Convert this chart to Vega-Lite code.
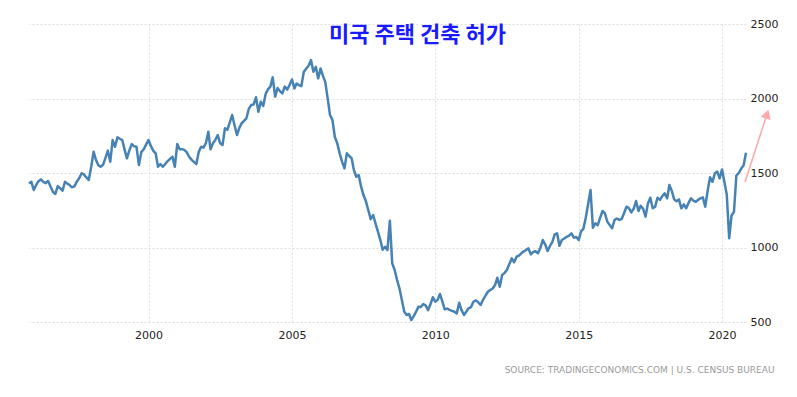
{
  "$schema": "https://vega.github.io/schema/vega-lite/v6.json",
  "width": 717,
  "height": 298,
  "autosize": "none",
  "padding": {"left": 29, "top": 24, "right": 51, "bottom": 75},
  "background": "white",
  "title": {
    "text": "미국 주택 건축 허가",
    "font": "Noto Sans CJK KR",
    "fontSize": 22,
    "fontWeight": "bold",
    "color": "#1a1aff",
    "anchor": "middle",
    "baseline": "middle",
    "dx": 30,
    "dy": 29,
    "offset": -10
  },
  "config": {
    "view": {"stroke": null},
    "axis": {
      "labelFont": "DejaVu Sans",
      "labelFontSize": 11,
      "labelColor": "#222222",
      "domain": false,
      "ticks": false,
      "gridColor": "#dedede",
      "gridDash": [2, 2],
      "gridWidth": 1
    }
  },
  "datasets": {
    "permits": [
      {"date": "1995-11", "value": 1430}, {"date": "1995-12", "value": 1441},
      {"date": "1996-01", "value": 1386}, {"date": "1996-02", "value": 1420}, {"date": "1996-03", "value": 1445}, {"date": "1996-04", "value": 1457}, {"date": "1996-05", "value": 1441}, {"date": "1996-06", "value": 1432}, {"date": "1996-07", "value": 1446}, {"date": "1996-08", "value": 1410}, {"date": "1996-09", "value": 1374}, {"date": "1996-10", "value": 1359}, {"date": "1996-11", "value": 1412}, {"date": "1996-12", "value": 1398},
      {"date": "1997-01", "value": 1381}, {"date": "1997-02", "value": 1441}, {"date": "1997-03", "value": 1430}, {"date": "1997-04", "value": 1419}, {"date": "1997-05", "value": 1404}, {"date": "1997-06", "value": 1410}, {"date": "1997-07", "value": 1441}, {"date": "1997-08", "value": 1465}, {"date": "1997-09", "value": 1498}, {"date": "1997-10", "value": 1490}, {"date": "1997-11", "value": 1470}, {"date": "1997-12", "value": 1453},
      {"date": "1998-01", "value": 1540}, {"date": "1998-02", "value": 1643}, {"date": "1998-03", "value": 1590}, {"date": "1998-04", "value": 1553}, {"date": "1998-05", "value": 1542}, {"date": "1998-06", "value": 1555}, {"date": "1998-07", "value": 1600}, {"date": "1998-08", "value": 1650}, {"date": "1998-09", "value": 1576}, {"date": "1998-10", "value": 1721}, {"date": "1998-11", "value": 1676}, {"date": "1998-12", "value": 1739},
      {"date": "1999-01", "value": 1730}, {"date": "1999-02", "value": 1721}, {"date": "1999-03", "value": 1660}, {"date": "1999-04", "value": 1598}, {"date": "1999-05", "value": 1650}, {"date": "1999-06", "value": 1694}, {"date": "1999-07", "value": 1680}, {"date": "1999-08", "value": 1676}, {"date": "1999-09", "value": 1553}, {"date": "1999-10", "value": 1640}, {"date": "1999-11", "value": 1659}, {"date": "1999-12", "value": 1690},
      {"date": "2000-01", "value": 1721}, {"date": "2000-02", "value": 1680}, {"date": "2000-03", "value": 1650}, {"date": "2000-04", "value": 1632}, {"date": "2000-05", "value": 1542}, {"date": "2000-06", "value": 1560}, {"date": "2000-07", "value": 1542}, {"date": "2000-08", "value": 1560}, {"date": "2000-09", "value": 1580}, {"date": "2000-10", "value": 1595}, {"date": "2000-11", "value": 1609}, {"date": "2000-12", "value": 1542},
      {"date": "2001-01", "value": 1694}, {"date": "2001-02", "value": 1659}, {"date": "2001-03", "value": 1660}, {"date": "2001-04", "value": 1655}, {"date": "2001-05", "value": 1640}, {"date": "2001-06", "value": 1609}, {"date": "2001-07", "value": 1590}, {"date": "2001-08", "value": 1575}, {"date": "2001-09", "value": 1560}, {"date": "2001-10", "value": 1640}, {"date": "2001-11", "value": 1676}, {"date": "2001-12", "value": 1670},
      {"date": "2002-01", "value": 1700}, {"date": "2002-02", "value": 1777}, {"date": "2002-03", "value": 1659}, {"date": "2002-04", "value": 1700}, {"date": "2002-05", "value": 1721}, {"date": "2002-06", "value": 1755}, {"date": "2002-07", "value": 1700}, {"date": "2002-08", "value": 1688}, {"date": "2002-09", "value": 1800}, {"date": "2002-10", "value": 1790}, {"date": "2002-11", "value": 1840}, {"date": "2002-12", "value": 1889},
      {"date": "2003-01", "value": 1820}, {"date": "2003-02", "value": 1755}, {"date": "2003-03", "value": 1800}, {"date": "2003-04", "value": 1833}, {"date": "2003-05", "value": 1850}, {"date": "2003-06", "value": 1867}, {"date": "2003-07", "value": 1930}, {"date": "2003-08", "value": 1956}, {"date": "2003-09", "value": 1960}, {"date": "2003-10", "value": 2008}, {"date": "2003-11", "value": 1911}, {"date": "2003-12", "value": 1978},
      {"date": "2004-01", "value": 1950}, {"date": "2004-02", "value": 2030}, {"date": "2004-03", "value": 2061}, {"date": "2004-04", "value": 2080}, {"date": "2004-05", "value": 2142}, {"date": "2004-06", "value": 2012}, {"date": "2004-07", "value": 2070}, {"date": "2004-08", "value": 2050}, {"date": "2004-09", "value": 2034}, {"date": "2004-10", "value": 2080}, {"date": "2004-11", "value": 2060}, {"date": "2004-12", "value": 2090},
      {"date": "2005-01", "value": 2128}, {"date": "2005-02", "value": 2068}, {"date": "2005-03", "value": 2100}, {"date": "2005-04", "value": 2090}, {"date": "2005-05", "value": 2083}, {"date": "2005-06", "value": 2180}, {"date": "2005-07", "value": 2200}, {"date": "2005-08", "value": 2220}, {"date": "2005-09", "value": 2258}, {"date": "2005-10", "value": 2180}, {"date": "2005-11", "value": 2213}, {"date": "2005-12", "value": 2135},
      {"date": "2006-01", "value": 2202}, {"date": "2006-02", "value": 2150}, {"date": "2006-03", "value": 2112}, {"date": "2006-04", "value": 2001}, {"date": "2006-05", "value": 1889}, {"date": "2006-06", "value": 1855}, {"date": "2006-07", "value": 1743}, {"date": "2006-08", "value": 1699}, {"date": "2006-09", "value": 1632}, {"date": "2006-10", "value": 1576}, {"date": "2006-11", "value": 1531}, {"date": "2006-12", "value": 1632},
      {"date": "2007-01", "value": 1614}, {"date": "2007-02", "value": 1598}, {"date": "2007-03", "value": 1520}, {"date": "2007-04", "value": 1475}, {"date": "2007-05", "value": 1486}, {"date": "2007-06", "value": 1408}, {"date": "2007-07", "value": 1352}, {"date": "2007-08", "value": 1310}, {"date": "2007-09", "value": 1250}, {"date": "2007-10", "value": 1190}, {"date": "2007-11", "value": 1218}, {"date": "2007-12", "value": 1162},
      {"date": "2008-01", "value": 1106}, {"date": "2008-02", "value": 1050}, {"date": "2008-03", "value": 985}, {"date": "2008-04", "value": 1005}, {"date": "2008-05", "value": 983}, {"date": "2008-06", "value": 1180}, {"date": "2008-07", "value": 894}, {"date": "2008-08", "value": 849}, {"date": "2008-09", "value": 782}, {"date": "2008-10", "value": 726}, {"date": "2008-11", "value": 648}, {"date": "2008-12", "value": 569},
      {"date": "2009-01", "value": 547}, {"date": "2009-02", "value": 554}, {"date": "2009-03", "value": 513}, {"date": "2009-04", "value": 540}, {"date": "2009-05", "value": 569}, {"date": "2009-06", "value": 603}, {"date": "2009-07", "value": 600}, {"date": "2009-08", "value": 621}, {"date": "2009-09", "value": 610}, {"date": "2009-10", "value": 580}, {"date": "2009-11", "value": 621}, {"date": "2009-12", "value": 666},
      {"date": "2010-01", "value": 636}, {"date": "2010-02", "value": 650}, {"date": "2010-03", "value": 688}, {"date": "2010-04", "value": 636}, {"date": "2010-05", "value": 585}, {"date": "2010-06", "value": 590}, {"date": "2010-07", "value": 582}, {"date": "2010-08", "value": 575}, {"date": "2010-09", "value": 569}, {"date": "2010-10", "value": 558}, {"date": "2010-11", "value": 629}, {"date": "2010-12", "value": 580},
      {"date": "2011-01", "value": 547}, {"date": "2011-02", "value": 570}, {"date": "2011-03", "value": 592}, {"date": "2011-04", "value": 600}, {"date": "2011-05", "value": 636}, {"date": "2011-06", "value": 645}, {"date": "2011-07", "value": 632}, {"date": "2011-08", "value": 614}, {"date": "2011-09", "value": 650}, {"date": "2011-10", "value": 676}, {"date": "2011-11", "value": 703}, {"date": "2011-12", "value": 715},
      {"date": "2012-01", "value": 725}, {"date": "2012-02", "value": 748}, {"date": "2012-03", "value": 797}, {"date": "2012-04", "value": 737}, {"date": "2012-05", "value": 815}, {"date": "2012-06", "value": 830}, {"date": "2012-07", "value": 849}, {"date": "2012-08", "value": 890}, {"date": "2012-09", "value": 927}, {"date": "2012-10", "value": 901}, {"date": "2012-11", "value": 938}, {"date": "2012-12", "value": 945},
      {"date": "2013-01", "value": 961}, {"date": "2013-02", "value": 975}, {"date": "2013-03", "value": 983}, {"date": "2013-04", "value": 994}, {"date": "2013-05", "value": 954}, {"date": "2013-06", "value": 970}, {"date": "2013-07", "value": 975}, {"date": "2013-08", "value": 961}, {"date": "2013-09", "value": 1000}, {"date": "2013-10", "value": 1050}, {"date": "2013-11", "value": 1020}, {"date": "2013-12", "value": 976},
      {"date": "2014-01", "value": 1010}, {"date": "2014-02", "value": 1040}, {"date": "2014-03", "value": 1088}, {"date": "2014-04", "value": 1095}, {"date": "2014-05", "value": 1012}, {"date": "2014-06", "value": 1050}, {"date": "2014-07", "value": 1060}, {"date": "2014-08", "value": 1072}, {"date": "2014-09", "value": 1080}, {"date": "2014-10", "value": 1095}, {"date": "2014-11", "value": 1066}, {"date": "2014-12", "value": 1070},
      {"date": "2015-01", "value": 1050}, {"date": "2015-02", "value": 1110}, {"date": "2015-03", "value": 1124}, {"date": "2015-04", "value": 1200}, {"date": "2015-05", "value": 1290}, {"date": "2015-06", "value": 1386}, {"date": "2015-07", "value": 1133}, {"date": "2015-08", "value": 1162}, {"date": "2015-09", "value": 1150}, {"date": "2015-10", "value": 1200}, {"date": "2015-11", "value": 1245}, {"date": "2015-12", "value": 1230},
      {"date": "2016-01", "value": 1173}, {"date": "2016-02", "value": 1150}, {"date": "2016-03", "value": 1129}, {"date": "2016-04", "value": 1184}, {"date": "2016-05", "value": 1195}, {"date": "2016-06", "value": 1185}, {"date": "2016-07", "value": 1191}, {"date": "2016-08", "value": 1230}, {"date": "2016-09", "value": 1274}, {"date": "2016-10", "value": 1265}, {"date": "2016-11", "value": 1236}, {"date": "2016-12", "value": 1260},
      {"date": "2017-01", "value": 1312}, {"date": "2017-02", "value": 1245}, {"date": "2017-03", "value": 1280}, {"date": "2017-04", "value": 1260}, {"date": "2017-05", "value": 1207}, {"date": "2017-06", "value": 1296}, {"date": "2017-07", "value": 1334}, {"date": "2017-08", "value": 1263}, {"date": "2017-09", "value": 1274}, {"date": "2017-10", "value": 1334}, {"date": "2017-11", "value": 1320}, {"date": "2017-12", "value": 1345},
      {"date": "2018-01", "value": 1363}, {"date": "2018-02", "value": 1330}, {"date": "2018-03", "value": 1419}, {"date": "2018-04", "value": 1380}, {"date": "2018-05", "value": 1323}, {"date": "2018-06", "value": 1310}, {"date": "2018-07", "value": 1323}, {"date": "2018-08", "value": 1263}, {"date": "2018-09", "value": 1290}, {"date": "2018-10", "value": 1263}, {"date": "2018-11", "value": 1300}, {"date": "2018-12", "value": 1330},
      {"date": "2019-01", "value": 1315}, {"date": "2019-02", "value": 1307}, {"date": "2019-03", "value": 1320}, {"date": "2019-04", "value": 1330}, {"date": "2019-05", "value": 1337}, {"date": "2019-06", "value": 1274}, {"date": "2019-07", "value": 1380}, {"date": "2019-08", "value": 1471}, {"date": "2019-09", "value": 1441}, {"date": "2019-10", "value": 1498}, {"date": "2019-11", "value": 1509}, {"date": "2019-12", "value": 1464},
      {"date": "2020-01", "value": 1524}, {"date": "2020-02", "value": 1436}, {"date": "2020-03", "value": 1356}, {"date": "2020-04", "value": 1062}, {"date": "2020-05", "value": 1215}, {"date": "2020-06", "value": 1240}, {"date": "2020-07", "value": 1483}, {"date": "2020-08", "value": 1500}, {"date": "2020-09", "value": 1530}, {"date": "2020-10", "value": 1550}, {"date": "2020-11", "value": 1636}
    ],
    "arrow": [
      {"start": "2020-10-20", "from": 1440, "end": "2021-07-27", "to": 1896}
    ]
  },
  "layer": [
    {
      "data": {"name": "permits"},
      "mark": {"type": "line", "color": "#4682b4", "strokeWidth": 2.5, "strokeJoin": "round"},
      "encoding": {
        "x": {
          "field": "date",
          "type": "temporal",
          "scale": {
            "type": "utc",
            "domain": [
              {"year": 1995, "month": 11, "date": 1, "utc": true},
              {"year": 2020, "month": 11, "date": 1, "utc": true}
            ],
            "nice": false
          },
          "axis": {
            "title": "SOURCE:  TRADINGECONOMICS.COM  |  U.S.  CENSUS  BUREAU",
            "titleFont": "DejaVu Sans",
            "titleFontSize": 9,
            "titleFontWeight": "normal",
            "titleColor": "#9a9a9a",
            "titleAlign": "right",
            "titleBaseline": "middle",
            "titleAnchor": "end",
            "titleX": 745,
            "titleY": 47,
            "values": [
              {"year": 2000, "utc": true},
              {"year": 2005, "utc": true},
              {"year": 2010, "utc": true},
              {"year": 2015, "utc": true},
              {"year": 2020, "utc": true}
            ],
            "labelExpr": "utcFormat(datum.value, '%Y')",
            "labelPadding": 7,
            "grid": true
          }
        },
        "y": {
          "field": "value",
          "type": "quantitative",
          "scale": {"domain": [500, 2500], "nice": false, "zero": false},
          "axis": {
            "orient": "right",
            "title": null,
            "values": [500, 1000, 1500, 2000, 2500],
            "format": "d",
            "labelPadding": 4,
            "grid": true
          }
        }
      }
    },
    {
      "data": {"name": "arrow"},
      "mark": {"type": "rule", "color": "#ffaaaa", "strokeWidth": 1.6, "clip": false},
      "encoding": {
        "x": {"field": "start", "type": "temporal"},
        "y": {"field": "from", "type": "quantitative"},
        "x2": {"field": "end"},
        "y2": {"field": "to"}
      }
    },
    {
      "data": {"name": "arrow"},
      "mark": {"type": "point", "shape": "triangle-up", "filled": true, "color": "#ffaaaa", "size": 110, "angle": 18, "opacity": 1, "clip": false},
      "encoding": {
        "x": {"field": "end", "type": "temporal"},
        "y": {"field": "to", "type": "quantitative"}
      }
    }
  ]
}
